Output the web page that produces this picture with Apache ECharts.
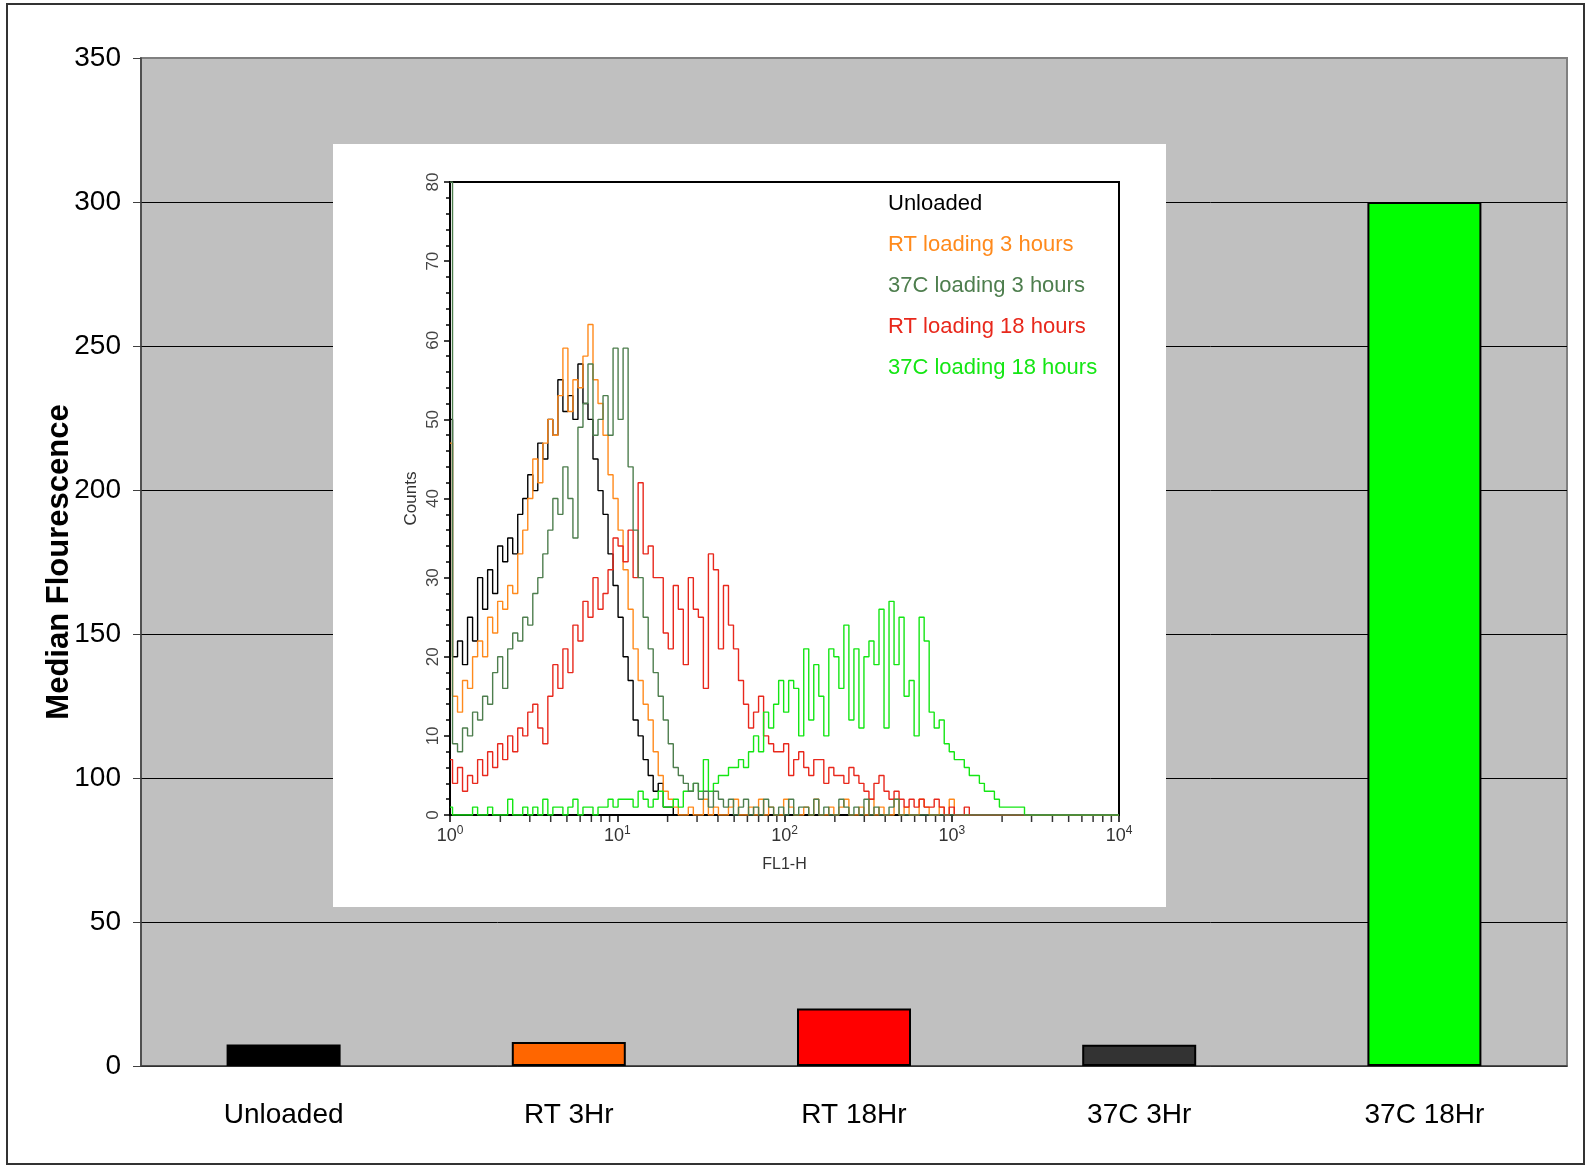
<!DOCTYPE html>
<html>
<head>
<meta charset="utf-8">
<script src="https://cdn.jsdelivr.net/npm/echarts@6/dist/echarts.min.js"></script>
<style>
  html, body { margin: 0; padding: 0; background: #fff; }
  #chart { width: 1586px; height: 1166px; }
</style>
</head>
<body>
<div id="chart"></div>
<script>
// bar chart: median fluorescence per loading condition
const groups = ['Unloaded', 'RT 3Hr', 'RT 18Hr', '37C 3Hr', '37C 18Hr']
const medians = [7.5, 8.3, 20, 7.4, 300]
const barColors = ['#000000', '#FF6600', '#FF0000', '#333333', '#00FF00']

// inset histogram: FL1-H channels (log scale) and counts per channel
const channels = [1, 1.072, 1.148, 1.230, 1.318, 1.413, 1.514, 1.622, 1.738, 1.862, 1.995, 2.138, 2.291, 2.455, 2.630, 2.818, 3.020, 3.236, 3.467, 3.715, 3.981, 4.266, 4.571, 4.898, 5.248, 5.623, 6.026, 6.457, 6.918, 7.413, 7.943, 8.511, 9.120, 9.772, 10.47, 11.22, 12.02, 12.88, 13.80, 14.79, 15.85, 16.98, 18.20, 19.50, 20.89, 22.39, 23.99, 25.70, 27.54, 29.51, 31.62, 33.88, 36.31, 38.90, 41.69, 44.67, 47.86, 51.29, 54.95, 58.88, 63.10, 67.61, 72.44, 77.62, 83.18, 89.13, 95.50, 102.3, 109.6, 117.5, 125.9, 134.9, 144.5, 154.9, 166.0, 177.8, 190.5, 204.2, 218.8, 234.4, 251.2, 269.2, 288.4, 309.0, 331.1, 354.8, 380.2, 407.4, 436.5, 467.7, 501.2, 537.0, 575.4, 616.6, 660.7, 707.9, 758.6, 812.8, 871.0, 933.3, 1000, 1072, 1148, 1230, 1318, 1413, 1514, 1622, 1738, 1862, 1995, 2138, 2291, 2455, 2630, 2818, 3020]
const fl1Max = 10000

const unloaded = [50, 20, 22, 19, 25, 22, 30, 26, 31, 28, 34, 32, 35, 33, 38, 40, 43, 41, 47, 45, 50, 48, 55, 51, 53, 50, 57, 52, 50, 45, 41, 38, 33, 29, 25, 20, 17, 12, 10, 7, 5, 3, 4, 1, 1, 0]
const rt3h = [47, 15, 13, 17, 16, 20, 22, 20, 25, 23, 27, 26, 29, 28, 33, 36, 40, 45, 42, 47, 50, 48, 53, 59, 51, 55, 54, 58, 62, 55, 52, 48, 43, 40, 36, 31, 26, 21, 17, 14, 12, 8, 5, 3, 2, 1, 0,
  0, 1, 0, 0, 2, 0, 1, 0, 0, 1, 2, 0, 0, 1, 0, 2, 0, 1, 0, 0, 2, 1, 0, 0, 1, 0, 2, 0, 0, 1, 0, 1, 2, 0, 0, 1, 0, 2, 0, 1, 0, 0, 2, 0, 1, 0, 0, 2, 1, 0, 0, 1, 0, 2, 0]
const c37_3h = [80, 9, 8, 11, 10, 13, 12, 15, 14, 18, 20, 16, 21, 23, 22, 25, 24, 28, 30, 33, 36, 40, 38, 44, 40, 35, 49, 52, 57, 48, 50, 53, 48, 59, 50, 59, 44, 36, 30, 25, 21, 18, 15, 12, 9, 6, 5, 4, 3, 4, 2, 3, 1, 3, 2, 1, 2,
  0, 1, 2, 0, 1, 0, 2, 1, 0, 1, 0, 2, 0, 1, 1, 0, 2, 0, 1, 0, 0, 2, 1, 0, 1, 0, 2, 0, 1, 0, 0, 1, 2, 0]
const rt18h = [7, 4, 6, 3, 5, 4, 7, 5, 8, 6, 9, 7, 10, 8, 11, 10, 13, 14, 11, 9, 15, 19, 16, 21, 18, 24, 22, 27, 25, 30, 26, 28, 31, 35, 34, 32, 36, 30, 42, 33, 34, 30, 30, 23, 21, 29, 26, 19, 30, 26, 25, 16, 33, 31, 21, 29, 24, 21, 17, 14, 11, 13, 15, 10, 9, 8, 8, 9, 5, 7, 8, 6, 5, 7, 7, 4, 6, 5, 5, 4, 6, 5, 4, 3, 2, 4, 5, 3, 2, 3, 2, 1, 2, 1, 2, 1, 1, 2, 1, 0, 1, 0, 0, 1, 0]
const c37_18h = [1, 0, 0, 0, 0, 1, 0, 0, 1, 0, 0, 0, 2, 0, 0, 1, 0, 1, 0, 2, 0, 1, 1, 0, 1, 2, 0, 1, 1, 0, 1, 1, 2, 1, 2, 2, 2, 1, 3, 2, 1, 2, 3, 1, 1, 2, 1, 3, 3, 4, 3, 7, 3, 4, 5, 5, 6, 6, 7, 6, 8, 10, 8, 13, 11, 14, 17, 13, 17, 16, 10, 21, 12, 19, 15, 10, 21, 20, 16, 24, 12, 21, 11, 20, 22, 19, 26, 11, 27, 19, 25, 15, 17, 10, 25, 22, 13, 11, 12, 9, 8, 7, 7, 6, 5, 5, 4, 3, 3, 2, 1, 1, 1, 1, 1, 0, 0]

const histNames = ['Unloaded', 'RT loading 3 hours', '37C loading 3 hours', 'RT loading 18 hours', '37C loading 18 hours']
const histCounts = [unloaded, rt3h, c37_3h, rt18h, c37_18h]
const histColors = ['#000000', '#FF8A1C', '#4E7E4E', '#E8281C', '#14E614']
const drawOrder = [0, 1, 3, 4, 2]

const minorTicks = [2, 3, 4, 5, 6, 7, 8, 9, 20, 30, 40, 50, 60, 70, 80, 90, 200, 300, 400, 500, 600, 700, 800, 900, 2000, 3000, 4000, 5000, 6000, 7000, 8000, 9000]

const plain = '"Liberation Sans", Arial, sans-serif'

const chart = echarts.init(document.getElementById('chart'), null, { renderer: 'canvas' })

function histSeries(i) {
  const data = histCounts[i].map((c, k) => [channels[k], c]).concat([[fl1Max, 0]])
  return {
    name: histNames[i],
    type: 'line',
    xAxisIndex: 1,
    yAxisIndex: 1,
    data,
    step: 'middle',
    symbol: 'none',
    z: 11,
    color: histColors[i],
    lineStyle: { color: histColors[i], width: 1.4 },
  }
}

const option = {
  animation: false,
  backgroundColor: '#fff',
  grid: [
    { left: 141, top: 58, right: 19, bottom: 100, show: true, backgroundColor: '#C0C0C0', borderColor: '#808080', borderWidth: 2 },
    { left: 450, top: 182, right: 467, bottom: 351, show: true, backgroundColor: 'transparent', borderColor: '#000', borderWidth: 2, z: 10 },
  ],
  legend: {
    data: histNames.map((n, i) => ({ name: n, icon: 'rect', textStyle: { color: histColors[i] } })),
    orient: 'vertical',
    left: 878,
    top: 187,
    itemWidth: 0,
    itemHeight: 24,
    itemGap: 17,
    selectedMode: false,
    textStyle: { fontSize: 22, fontFamily: plain },
    z: 20,
  },
  xAxis: [
    {
      gridIndex: 0,
      type: 'category',
      data: groups,
      axisLine: { lineStyle: { color: '#404040', width: 1.5 } },
      axisTick: { length: 11, lineStyle: { color: '#404040' } },
      axisLabel: { fontSize: 28, fontFamily: plain, color: '#000', margin: 35 },
    },
    {
      gridIndex: 1,
      type: 'log',
      logBase: 10,
      min: 1,
      max: fl1Max,
      z: 10,
      axisLine: { lineStyle: { color: '#000', width: 2 } },
      axisTick: { length: 7, lineStyle: { color: '#000', width: 1.5 } },
      splitLine: { show: false },
      axisLabel: {
        margin: 10,
        formatter: (v) => '{b|10}{s|' + Math.round(Math.log10(v)) + '}',
        rich: {
          b: { fontSize: 18, fontFamily: plain, color: '#333' },
          s: { fontSize: 12, fontFamily: plain, color: '#333', verticalAlign: 'top', padding: [0, 0, 10, 0] },
        },
      },
      name: 'FL1-H',
      nameLocation: 'middle',
      nameGap: 42,
      nameTextStyle: { fontSize: 16, fontFamily: plain, color: '#333' },
    },
  ],
  yAxis: [
    {
      gridIndex: 0,
      type: 'value',
      min: 0,
      max: 350,
      interval: 50,
      axisLine: { show: true, lineStyle: { color: '#404040', width: 1.5 } },
      axisTick: { show: true, length: 8, lineStyle: { color: '#404040' } },
      splitLine: { show: true, showMaxLine: false, lineStyle: { color: '#000', width: 1 } },
      axisLabel: { fontSize: 28, fontFamily: plain, color: '#000', margin: 20 },
      name: 'Median Flourescence',
      nameLocation: 'middle',
      nameGap: 66,
      nameMoveOverlap: false,
      nameTextStyle: { fontSize: 31, fontWeight: 'bold', fontFamily: plain, color: '#000' },
    },
    {
      gridIndex: 1,
      type: 'value',
      min: 0,
      max: 80,
      interval: 10,
      z: 10,
      axisLine: { show: true, lineStyle: { color: '#000', width: 2 } },
      axisTick: { show: true, length: 6, lineStyle: { color: '#000', width: 1.5 } },
      minorTick: { show: true, splitNumber: 5, length: 4, lineStyle: { color: '#000', width: 1.5 } },
      splitLine: { show: false },
      axisLabel: { rotate: 90, fontSize: 17, fontFamily: plain, color: '#444', margin: 8 },
      name: 'Counts',
      nameLocation: 'middle',
      nameRotate: 90,
      nameGap: 30,
      nameMoveOverlap: false,
      nameTextStyle: { fontSize: 17, fontFamily: plain, color: '#333' },
    },
  ],
  graphic: [
    { type: 'rect', z: 5, shape: { x: 333, y: 144, width: 833, height: 763 }, style: { fill: '#fff' } },
    { type: 'rect', z: 30, shape: { x: 7, y: 4, width: 1577, height: 1160 }, style: { fill: 'none', stroke: '#333', lineWidth: 2 } },
  ],
  series: [
    {
      type: 'bar',
      xAxisIndex: 0,
      yAxisIndex: 0,
      barWidth: 114,
      data: medians.map((v, i) => ({ value: v, itemStyle: { color: barColors[i] } })),
      itemStyle: { borderColor: '#000', borderWidth: 2 },
    },
    ...drawOrder.map(histSeries),
    {
      type: 'scatter',
      xAxisIndex: 1,
      yAxisIndex: 1,
      data: minorTicks.map((v) => [v, 0]),
      symbol: 'rect',
      symbolSize: [1.5, 6],
      symbolOffset: [0, 4],
      itemStyle: { color: '#000' },
      clip: false,
      silent: true,
      z: 12,
    },
  ],
}

chart.setOption(option)
</script>
</body>
</html>
